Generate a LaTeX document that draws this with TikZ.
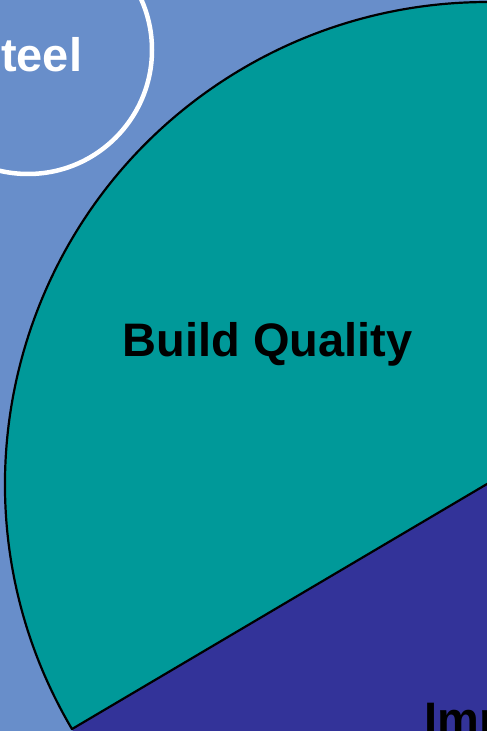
\documentclass[tikz,border=0pt]{standalone}
\usepackage{fontspec}
\setmainfont{Liberation Sans}
\definecolor{bgblue}{RGB}{104,142,202}
\definecolor{teal1}{RGB}{0,153,153}
\definecolor{navy1}{RGB}{51,51,153}
\tikzset{
  lbl/.style={font=\bfseries\fontsize{47}{56}\selectfont, inner sep=0pt},
  sector/.style={draw=black, line width=2.2pt, line join=round}
}
\begin{document}
\begin{tikzpicture}[x=1pt,y=1pt]
\useasboundingbox (0,0) rectangle (487,731);
\clip (0,0) rectangle (487,731);
\fill[bgblue] (0,0) rectangle (487,731);
% white ring
\coordinate (rc) at (28,681);
\draw[white, line width=4.5pt] (rc) circle[radius=124];
\node[lbl, text=white, anchor=base] (steel) at (26,659) {Steel};
% pie
\coordinate (pc) at (487,247);
\fill[navy1] (pc) -- ++(210.56:482) arc[start angle=210.56, end angle=340, radius=482] -- cycle;
\filldraw[sector, fill=teal1] (pc) -- ++(210.56:482) arc[start angle=210.56, end angle=20, radius=482] -- cycle;
\node[lbl, text=black, anchor=base] (bq) at (267.5,374) {Build Quality};
\node[lbl, text=black, anchor=base west] (imp) at (424,-5) {Imp};
\end{tikzpicture}
\end{document}
